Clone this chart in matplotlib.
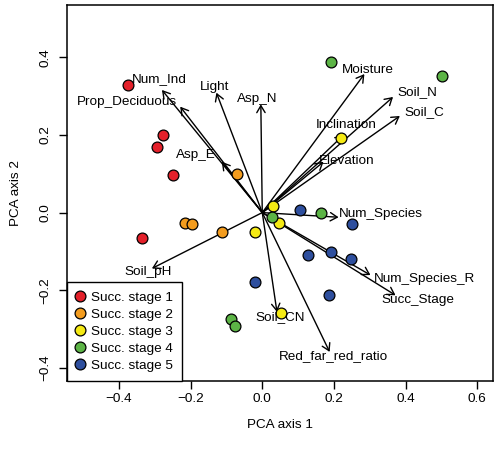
import matplotlib
matplotlib.use("Agg")
import matplotlib.pyplot as plt

plt.rcParams['font.family'] = ['Liberation Sans', 'DejaVu Sans']

# sample scores per succession stage (PCA axis 1, PCA axis 2)
stage_names = ['Succ. stage 1', 'Succ. stage 2', 'Succ. stage 3',
               'Succ. stage 4', 'Succ. stage 5']
stage_colors = ['#e3202a', '#f39c1e', '#f5ea14', '#5cb446', '#2e4f9e']

stage1_x = [-0.374, -0.278, -0.295, -0.250, -0.336]
stage1_y = [0.329, 0.200, 0.168, 0.097, -0.066]
stage2_x = [-0.071, -0.215, -0.196, -0.112]
stage2_y = [0.099, -0.027, -0.029, -0.050]
stage3_x = [0.220, 0.030, 0.048, -0.021, 0.052]
stage3_y = [0.192, 0.018, -0.028, -0.049, -0.260]
stage4_x = [0.191, 0.503, 0.165, 0.028, -0.088, -0.075]
stage4_y = [0.387, 0.353, 0.000, -0.012, -0.274, -0.292]
stage5_x = [0.106, 0.250, 0.128, 0.192, 0.248, -0.020, 0.186]
stage5_y = [0.006, -0.029, -0.110, -0.101, -0.119, -0.178, -0.213]

# variable loadings (arrow tips) and label positions
var_names = ['Num_Ind', 'Prop_Deciduous', 'Light', 'Asp_N', 'Asp_E',
             'Moisture', 'Soil_N', 'Soil_C', 'Inclination', 'Elevation',
             'Num_Species', 'Num_Species_R', 'Succ_Stage', 'Soil_pH',
             'Soil_CN', 'Red_far_red_ratio']
var_x = [-0.280, -0.229, -0.128, -0.004, -0.113, 0.285, 0.365, 0.384,
         0.227, 0.171, 0.213, 0.302, 0.372, -0.308, 0.041, 0.188]
var_y = [0.316, 0.273, 0.309, 0.279, 0.131, 0.357, 0.298, 0.249,
         0.200, 0.131, -0.012, -0.161, -0.213, -0.144, -0.256, -0.359]
lab_x = [-0.287, -0.378, -0.134, -0.013, -0.184, 0.294, 0.434, 0.452,
         0.235, 0.237, 0.332, 0.453, 0.434, -0.318, 0.050, 0.199]
lab_y = [0.344, 0.284, 0.323, 0.293, 0.148, 0.367, 0.310, 0.258,
         0.226, 0.133, -0.004, -0.170, -0.226, -0.153, -0.270, -0.370]

fig = plt.figure(figsize=(4.98, 4.49), dpi=100)
ax = fig.add_axes([67 / 498, 1 - 381 / 449, 426 / 498, 376 / 449])
ax.set_xlim(-0.545, 0.644)
ax.set_ylim(-0.434, 0.535)

fs = 9.7

# arrows
for vx, vy in zip(var_x, var_y):
    ax.annotate('', xy=(vx, vy), xytext=(0, 0),
                arrowprops=dict(arrowstyle='->,head_length=0.5,head_width=0.3',
                                shrinkA=0, shrinkB=0, lw=1.0, color='black',
                                mutation_scale=10),
                zorder=2)

# arrow labels
for name, tx, ty in zip(var_names, lab_x, lab_y):
    ax.text(tx, ty, name, fontsize=fs, ha='center', va='center', zorder=4)

# points
all_x = [stage1_x, stage2_x, stage3_x, stage4_x, stage5_x]
all_y = [stage1_y, stage2_y, stage3_y, stage4_y, stage5_y]
for xs, ys, col, name in zip(all_x, all_y, stage_colors, stage_names):
    ax.plot(xs, ys, 'o', ms=7.8, mfc=col, mec='black', mew=0.9,
            label=name, zorder=3)

leg = ax.legend(loc='lower left', borderaxespad=0, fancybox=False,
                edgecolor='black', framealpha=1, fontsize=fs,
                handlelength=0.6, handletextpad=0.45, labelspacing=0.33,
                borderpad=0.7)
leg.get_frame().set_linewidth(1.0)

ax.set_xticks([-0.4, -0.2, 0.0, 0.2, 0.4, 0.6])
ax.set_yticks([-0.4, -0.2, 0.0, 0.2, 0.4])
ax.set_xticklabels(['\u22120.4', '\u22120.2', '0.0', '0.2', '0.4', '0.6'])
ax.set_yticklabels(['\u22120.4', '\u22120.2', '0.0', '0.2', '0.4'],
                   rotation=90, va='center')
ax.tick_params(direction='out', length=5.5, width=1.0, labelsize=fs)
ax.tick_params(axis='x', pad=3)
ax.tick_params(axis='y', pad=6)
for sp in ax.spines.values():
    sp.set_linewidth(1.1)

ax.set_xlabel('PCA axis 1', fontsize=fs, labelpad=10)
ax.set_ylabel('PCA axis 2', fontsize=fs, labelpad=12)

fig.savefig('out.png', dpi=100)
